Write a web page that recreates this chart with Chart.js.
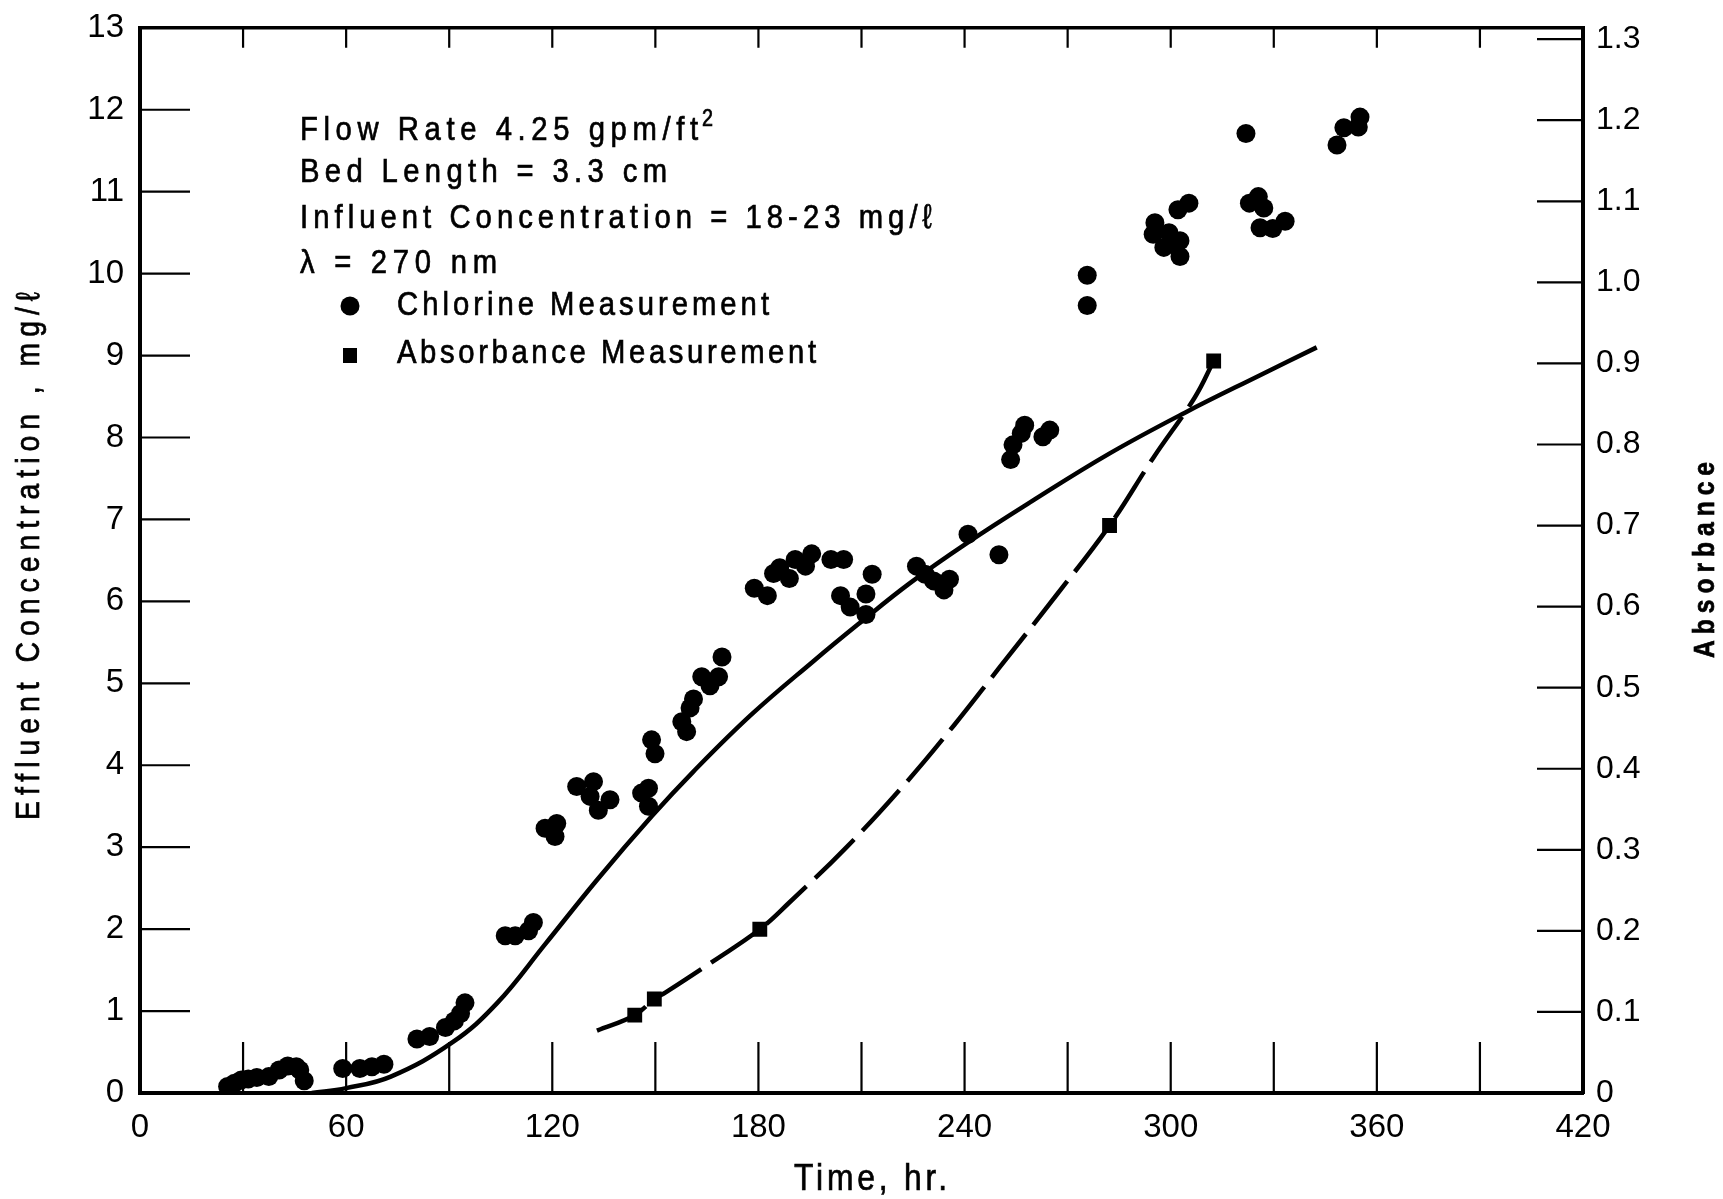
<!DOCTYPE html>
<html>
<head>
<meta charset="utf-8">
<script src="https://cdn.jsdelivr.net/npm/chart.js@4.4.0/dist/chart.umd.min.js"></script>
<style>
  html, body { margin: 0; padding: 0; background: #fff; }
  #wrap { width: 1723px; height: 1199px; position: relative; }
</style>
</head>
<body>
<div id="wrap"><canvas id="breakthrough"></canvas></div>
<script>
// chlorine measurements (time in hr, effluent concentration in mg/l)
let chlorineTime = [25.5, 27.5, 29.5, 31.5, 34, 37.5, 40.5, 43, 45.5, 46.5, 47.8,
    59, 64, 67.5, 71,
    80.6, 84.3, 88.9, 91.5, 93.3, 94.6,
    106.3, 109.2, 113.1, 114.5,
    117.9, 120.8, 121.3,
    127.1, 131, 132, 133.4, 136.8,
    146, 148, 148, 148.9, 149.9,
    157.7, 159.1, 160.1, 161.1, 163.5, 165.9, 168.4, 169.4,
    178.8, 182.6, 184.4, 186.2, 189, 190.7, 193.7, 195.5, 201.1, 204.8,
    203.9, 206.7, 211.3, 213.1, 211.3,
    226, 228.5, 231, 234, 235.6, 241, 250,
    253.4, 254.1, 256.5, 257.5, 262.8, 264.8,
    275.7, 275.7, 294.9, 295.4, 298, 299.5, 300.6, 302.7, 302.7, 302.1, 305.3,
    321.9, 322.9, 325.5, 327.1, 326, 329.7, 333.3,
    348.4, 350.4, 354.6, 355.1]
let chlorineConc = [0.08, 0.12, 0.16, 0.17, 0.19, 0.2, 0.28, 0.33, 0.32, 0.28, 0.15,
    0.30, 0.30, 0.32, 0.35,
    0.66, 0.69, 0.80, 0.88, 0.97, 1.1,
    1.92, 1.92, 1.98, 2.08,
    3.23, 3.13, 3.29,
    3.74, 3.62, 3.80, 3.45, 3.58,
    3.66, 3.72, 3.50, 4.31, 4.14,
    4.53, 4.41, 4.70, 4.81, 5.08, 4.97, 5.08, 5.32,
    6.16, 6.07, 6.34, 6.41, 6.28, 6.51, 6.43, 6.58, 6.51, 6.51,
    6.07, 5.93, 6.09, 6.33, 5.84,
    6.43, 6.33, 6.25, 6.14, 6.27, 6.82, 6.57,
    7.73, 7.91, 8.05, 8.15, 8.01, 8.09,
    9.61, 9.98, 10.48, 10.62, 10.32, 10.50, 10.36, 10.40, 10.21, 10.78, 10.86,
    11.71, 10.86, 10.94, 10.80, 10.56, 10.55, 10.64,
    11.57, 11.78, 11.79, 11.91]

// solid curve (chlorine, left axis)
let curveTime = [50, 60, 73, 91, 104, 118, 133, 149, 161, 178, 196, 209, 224, 241, 259.5, 282, 304, 326, 342.5]
let curveConc = [0, 0.06, 0.2, 0.62, 1.1, 1.82, 2.6, 3.38, 3.92, 4.62, 5.27, 5.72, 6.22, 6.72, 7.22, 7.8, 8.3, 8.76, 9.1]

// absorbance measurements (right axis)
let absTime = [144, 149.7, 180.4, 282.2, 312.5]
let absValue = [0.096, 0.116, 0.202, 0.700, 0.903]

// dashed curve (absorbance, right axis)
let absCurveTime = [133, 144, 149.7, 153, 167, 180.4, 189, 205.6, 223, 237, 250, 266.7, 282.2, 295, 307, 312.5]
let absCurveValue = [0.077, 0.096, 0.116, 0.124, 0.163, 0.202, 0.235, 0.303, 0.383, 0.454, 0.524, 0.614, 0.700, 0.784, 0.858, 0.903]

// ticks
let timeLabels = [0, 60, 120, 180, 240, 300, 360, 420]
let timeMarks = [30, 60, 90, 120, 150, 180, 210, 240, 270, 300, 330, 360, 390]
let concTicks = [0, 1, 2, 3, 4, 5, 6, 7, 8, 9, 10, 11, 12, 13]
let absTicks = [0, 0.1, 0.2, 0.3, 0.4, 0.5, 0.6, 0.7, 0.8, 0.9, 1.0, 1.1, 1.2, 1.3]
let absLabels = ["0", "0.1", "0.2", "0.3", "0.4", "0.5", "0.6", "0.7", "0.8", "0.9", "1.0", "1.1", "1.2", "1.3"]

let pts = (xs, ys) => xs.map((x, i) => ({ x: x, y: ys[i] }))

let fuente = "'Liberation Sans', Arial, sans-serif"

// texto angosto con espaciado para llegar a un ancho dado
function spaced(ctx, text, x, y, width, font, squeeze) {
    ctx.save()
    ctx.font = font
    ctx.letterSpacing = "0px"
    ctx.translate(x, y)
    ctx.scale(squeeze, 1)
    let w = ctx.measureText(text).width
    let n = Array.from(text).length
    ctx.letterSpacing = ((width / squeeze - w) / (n - 1)) + "px"
    ctx.textAlign = "left"
    ctx.textBaseline = "alphabetic"
    ctx.lineWidth = 0.7
    ctx.strokeStyle = "#000"
    ctx.fillText(text, 0, 0)
    ctx.strokeText(text, 0, 0)
    ctx.restore()
}

// marcas hacia adentro y textos
let marcas = {
    id: "marcas",
    afterDraw(chart) {
        let ctx = chart.ctx
        let { left, right, top, bottom } = chart.chartArea
        let sx = chart.scales.x, sy = chart.scales.y, sy1 = chart.scales.y1
        ctx.save()
        ctx.strokeStyle = "#000"
        ctx.lineWidth = 2.2
        ctx.beginPath()
        timeMarks.forEach(t => {
            let px = sx.getPixelForValue(t)
            ctx.moveTo(px, bottom); ctx.lineTo(px, bottom - 51)
            ctx.moveTo(px, top); ctx.lineTo(px, top + 20)
        })
        concTicks.slice(1, -1).forEach(v => {
            let py = sy.getPixelForValue(v)
            ctx.moveTo(left, py); ctx.lineTo(left + 50, py)
        })
        absTicks.slice(1).forEach(v => {
            let py = sy1.getPixelForValue(v)
            ctx.moveTo(right, py); ctx.lineTo(right - 46, py)
        })
        ctx.stroke()

        ctx.fillStyle = "#000"
        let f = "34px " + fuente
        let sq = 0.86
        spaced(ctx, "Flow Rate 4.25 gpm/ft", 300, 140, 398, f, sq)
        spaced(ctx, "2", 702, 126, 12, "23px " + fuente, sq)
        spaced(ctx, "Bed Length = 3.3 cm", 300, 182, 367, f, sq)
        spaced(ctx, "Influent Concentration = 18-23 mg/ℓ", 300, 228, 632, f, sq)
        spaced(ctx, "λ = 270 nm", 300, 273, 197, f, sq)
        spaced(ctx, "Chlorine Measurement", 397, 315, 372, f, sq)
        spaced(ctx, "Absorbance Measurement", 397, 363, 419, f, sq)

        // marcadores de la leyenda
        ctx.beginPath()
        ctx.arc(350, 306, 9.5, 0, Math.PI * 2)
        ctx.fill()
        ctx.fillRect(343, 348, 14, 15)

        // titulos de ejes
        spaced(ctx, "Time, hr.", 794, 1190, 153, "37px " + fuente, sq)

        ctx.save()
        ctx.translate(39, 820)
        ctx.rotate(-Math.PI / 2)
        spaced(ctx, "Effluent Concentration , mg/ℓ", 0, 0, 528, "33px " + fuente, sq)
        ctx.restore()

        ctx.save()
        ctx.translate(1714, 658)
        ctx.rotate(-Math.PI / 2)
        spaced(ctx, "Absorbance", 0, 0, 196, "bold 29px " + fuente, 0.85)
        ctx.restore()

        ctx.restore()
    }
}

let borde = { display: true, color: "#000", width: 4 }
let tickFont = { family: fuente, size: 33 }

let miGrafica = new Chart(document.getElementById("breakthrough").getContext("2d"), {
    type: "scatter",
    data: {
        datasets: [
            {
                label: "Chlorine Measurement",
                data: pts(chlorineTime, chlorineConc),
                yAxisID: "y",
                pointStyle: "circle",
                pointRadius: 9.5,
                backgroundColor: "#000",
                borderWidth: 0,
            },
            {
                label: "Absorbance Measurement",
                data: pts(absTime, absValue),
                yAxisID: "y1",
                pointStyle: "rect",
                pointRadius: 10.5,
                backgroundColor: "#000",
                borderWidth: 0,
            },
            {
                label: "Chlorine curve",
                data: pts(curveTime, curveConc),
                yAxisID: "y",
                showLine: true,
                pointRadius: 0,
                borderColor: "#000",
                borderWidth: 4.5,
                tension: 0.4,
            },
            {
                label: "Absorbance curve",
                data: pts(absCurveTime, absCurveValue),
                yAxisID: "y1",
                showLine: true,
                pointRadius: 0,
                borderColor: "#000",
                borderWidth: 4.5,
                borderDash: [55, 12],
                tension: 0.4,
            },
        ],
    },
    options: {
        responsive: true,
        maintainAspectRatio: false,
        animation: false,
        layout: { padding: 0 },
        plugins: { legend: { display: false }, tooltip: { enabled: false } },
        scales: {
            x: {
                type: "linear", position: "bottom", min: 0, max: 420,
                grid: { display: false }, border: borde,
                afterBuildTicks: s => { s.ticks = timeLabels.map(v => ({ value: v })) },
                ticks: { color: "#000", font: tickFont, padding: 7, autoSkip: false, maxRotation: 0 },
                afterFit: s => { s.height = 106 },
            },
            xTop: {
                type: "linear", position: "top", min: 0, max: 420,
                grid: { display: false }, border: { display: true, color: "#000", width: 3.5 },
                ticks: { display: false },
                afterFit: s => { s.height = 23 },
            },
            y: {
                type: "linear", position: "left", min: 0, max: 13,
                grid: { display: false }, border: borde,
                afterBuildTicks: s => { s.ticks = concTicks.map(v => ({ value: v })) },
                ticks: { color: "#000", font: tickFont, padding: 8, autoSkip: false },
                afterFit: s => { s.width = 140 },
            },
            y1: {
                type: "linear", position: "right", min: 0, max: 1.314,
                grid: { display: false }, border: borde,
                afterBuildTicks: s => { s.ticks = absTicks.map(v => ({ value: v })) },
                ticks: {
                    color: "#000", font: { family: fuente, size: 32 }, padding: 5, autoSkip: false,
                    callback: (v, i) => absLabels[i],
                },
                afterFit: s => { s.width = 140 },
            },
        },
    },
    plugins: [marcas],
})
</script>
</body>
</html>
